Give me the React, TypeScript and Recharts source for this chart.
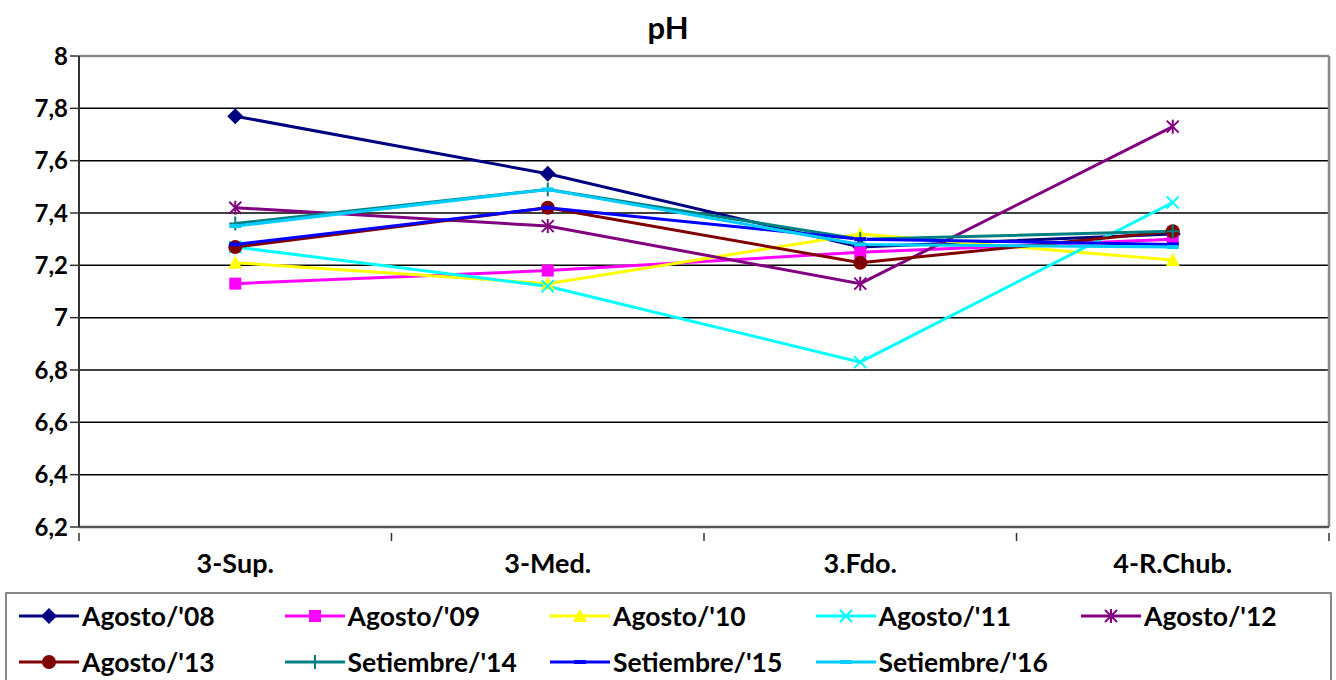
import React from "react";
import {
  LineChart,
  Line,
  XAxis,
  YAxis,
  CartesianGrid,
  ReferenceLine,
} from "recharts";

const sites = ["3-Sup.", "3-Med.", "3.Fdo.", "4-R.Chub."];
const yTicks = [6.2, 6.4, 6.6, 6.8, 7, 7.2, 7.4, 7.6, 7.8, 8];

const ago08 = [7.77, 7.55, 7.27, 7.32];
const ago09 = [7.13, 7.18, 7.25, 7.3];
const ago10 = [7.21, 7.13, 7.32, 7.22];
const ago11 = [7.27, 7.12, 6.83, 7.44];
const ago12 = [7.42, 7.35, 7.13, 7.73];
const ago13 = [7.27, 7.42, 7.21, 7.33];
const set14 = [7.36, 7.49, 7.3, 7.33];
const set15 = [7.28, 7.42, 7.3, 7.28];
const set16 = [7.35, 7.49, 7.28, 7.27];

type Shape = "diamond" | "square" | "triangle" | "x" | "star" | "circle" | "plus" | "dash";

const series: { key: string; name: string; color: string; shape: Shape; values: number[] }[] = [
  { key: "a08", name: "Agosto/'08", color: "#000080", shape: "diamond", values: ago08 },
  { key: "a09", name: "Agosto/'09", color: "#FF00FF", shape: "square", values: ago09 },
  { key: "a10", name: "Agosto/'10", color: "#FFFF00", shape: "triangle", values: ago10 },
  { key: "a11", name: "Agosto/'11", color: "#00FFFF", shape: "x", values: ago11 },
  { key: "a12", name: "Agosto/'12", color: "#800080", shape: "star", values: ago12 },
  { key: "a13", name: "Agosto/'13", color: "#800000", shape: "circle", values: ago13 },
  { key: "s14", name: "Setiembre/'14", color: "#008080", shape: "plus", values: set14 },
  { key: "s15", name: "Setiembre/'15", color: "#0000FF", shape: "dash", values: set15 },
  { key: "s16", name: "Setiembre/'16", color: "#00CCFF", shape: "dash", values: set16 },
];

const data = sites.map((site, i) => {
  const row: Record<string, string | number> = { site };
  series.forEach((s) => {
    row[s.key] = s.values[i];
  });
  return row;
});

const FONT = "Lato, 'Open Sans', sans-serif";
const W = 1336;
const H = 680;
const PLOT_LEFT = 79;
const PLOT_RIGHT = 7;
const BAND = (W - PLOT_LEFT - PLOT_RIGHT) / sites.length;

function Marker({ shape, color, cx, cy }: { shape: Shape; color: string; cx: number; cy: number }) {
  switch (shape) {
    case "diamond":
      return <path d={`M${cx},${cy - 8}L${cx + 8},${cy}L${cx},${cy + 8}L${cx - 8},${cy}Z`} fill={color} />;
    case "square":
      return <rect x={cx - 6} y={cy - 6} width={12} height={12} fill={color} />;
    case "triangle":
      return <path d={`M${cx},${cy - 7}L${cx + 7},${cy + 6}L${cx - 7},${cy + 6}Z`} fill={color} />;
    case "x":
      return (
        <g stroke={color} strokeWidth={2}>
          <line x1={cx - 6} y1={cy - 6} x2={cx + 6} y2={cy + 6} />
          <line x1={cx - 6} y1={cy + 6} x2={cx + 6} y2={cy - 6} />
        </g>
      );
    case "star":
      return (
        <g stroke={color} strokeWidth={2}>
          <line x1={cx - 6} y1={cy - 6} x2={cx + 6} y2={cy + 6} />
          <line x1={cx - 6} y1={cy + 6} x2={cx + 6} y2={cy - 6} />
          <line x1={cx} y1={cy - 7} x2={cx} y2={cy + 7} />
        </g>
      );
    case "circle":
      return <circle cx={cx} cy={cy} r={7} fill={color} />;
    case "plus":
      return (
        <g stroke={color} strokeWidth={2}>
          <line x1={cx - 6} y1={cy} x2={cx + 6} y2={cy} />
          <line x1={cx} y1={cy - 7} x2={cx} y2={cy + 7} />
        </g>
      );
    case "dash":
      return <rect x={cx - 6} y={cy - 2} width={12} height={4} fill={color} />;
  }
}

function makeDot(shape: Shape, color: string) {
  return (props: any) => {
    const { cx, cy, index } = props;
    if (cx == null || cy == null) return <g key={index} />;
    return (
      <g key={index}>
        <Marker shape={shape} color={color} cx={cx} cy={cy} />
      </g>
    );
  };
}

// category label plus the tick marks between categories
function SiteTick(props: any) {
  const { x, y, payload, index } = props;
  const top = y - 2;
  return (
    <g>
      <line x1={x - BAND / 2} y1={top} x2={x - BAND / 2} y2={top + 8} stroke="#333" strokeWidth={1.5} />
      {index === sites.length - 1 && (
        <line x1={x + BAND / 2} y1={top} x2={x + BAND / 2} y2={top + 8} stroke="#333" strokeWidth={1.5} />
      )}
      <text x={x} y={y + 38} textAnchor="middle" fontFamily={FONT} fontWeight={700} fontSize={27} fill="#000">
        {payload.value}
      </text>
    </g>
  );
}

function LegendBox() {
  return (
    <div
      style={{
        position: "absolute",
        left: 5,
        top: 592,
        width: 1327,
        height: 100,
        border: "2px solid #888",
        boxSizing: "border-box",
        fontFamily: FONT,
        fontWeight: 700,
        fontSize: 26.5,
        color: "#000",
      }}
    >
      {series.map((s, i) => {
        const col = i % 5;
        const row = Math.floor(i / 5);
        return (
          <div
            key={s.key}
            style={{
              position: "absolute",
              left: 11 + col * 265.5,
              top: 5 + row * 46,
              height: 34,
              display: "flex",
              alignItems: "center",
              whiteSpace: "nowrap",
            }}
          >
            <svg width={62} height={32}>
              <line x1={1} y1={16} x2={61} y2={16} stroke={s.color} strokeWidth={3} />
              <Marker shape={s.shape} color={s.color} cx={31} cy={16} />
            </svg>
            <span style={{ marginLeft: 2 }}>{s.name}</span>
          </div>
        );
      })}
    </div>
  );
}

export default function App() {
  return (
    <div style={{ position: "absolute", left: 0, top: 0, width: W, height: H, background: "#fff", overflow: "hidden" }}>
      <div
        style={{
          position: "absolute",
          left: 0,
          top: 8,
          width: W,
          textAlign: "center",
          fontFamily: FONT,
          fontWeight: 700,
          fontSize: 31,
        }}
      >
        pH
      </div>
      <LineChart width={W} height={H} data={data} margin={{ top: 56, right: PLOT_RIGHT, bottom: 113, left: 15 }}>
        {/* black gridlines; grey frame on top and right */}
        <CartesianGrid horizontal vertical={false} stroke="#000" strokeWidth={1.5} />
        <CartesianGrid
          horizontal={false}
          vertical
          stroke="#888"
          strokeWidth={2.5}
          verticalCoordinatesGenerator={({ offset }: any) => [offset.left + offset.width]}
        />
        <ReferenceLine y={8} stroke="#888" strokeWidth={2.5} />
        <XAxis
          dataKey="site"
          padding={{ left: BAND / 2, right: BAND / 2 }}
          axisLine={{ stroke: "#555", strokeWidth: 2.5 }}
          tickLine={false}
          tick={<SiteTick />}
          interval={0}
          height={40}
        />
        <YAxis
          domain={[6.2, 8]}
          ticks={yTicks}
          width={64}
          interval={0}
          axisLine={{ stroke: "#333", strokeWidth: 2 }}
          tickLine={{ stroke: "#333", strokeWidth: 1.5 }}
          tickSize={9}
          tickMargin={2}
          tick={{ fontFamily: FONT, fontWeight: 700, fontSize: 24, fill: "#000" }}
          tickFormatter={(v: number) => String(v).replace(".", ",")}
        />
        {series.map((s) => (
          <Line
            key={s.key}
            dataKey={s.key}
            name={s.name}
            type="linear"
            stroke={s.color}
            strokeWidth={3}
            dot={makeDot(s.shape, s.color)}
            activeDot={false}
            isAnimationActive={false}
          />
        ))}
      </LineChart>
      <LegendBox />
    </div>
  );
}
